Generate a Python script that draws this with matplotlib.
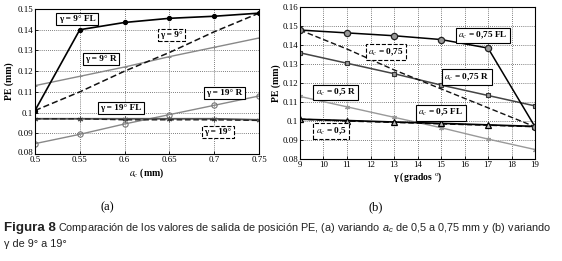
import matplotlib
matplotlib.use("Agg")
import matplotlib.pyplot as plt
import matplotlib.transforms as mtransforms

plt.rcParams['mathtext.fontset'] = 'custom'
plt.rcParams['mathtext.rm'] = 'Liberation Sans'
plt.rcParams['mathtext.it'] = 'Liberation Sans:italic'

# ---- data: panel (a) ----
ac = [0.5, 0.55, 0.6, 0.65, 0.7, 0.75]
g9_fl = [0.101, 0.140, 0.1435, 0.1455, 0.1465, 0.148]
g9 = [0.101, 0.110, 0.120, 0.129, 0.139, 0.148]
g9_r = [0.113, 0.1175, 0.122, 0.127, 0.1315, 0.136]
g19_r = [0.085, 0.0895, 0.0945, 0.099, 0.1035, 0.108]
g19_fl = [0.097, 0.097, 0.097, 0.097, 0.097, 0.0965]
g19 = [0.097, 0.097, 0.0965, 0.0965, 0.0965, 0.0962]
a_xticks = [0.5, 0.55, 0.6, 0.65, 0.7, 0.75]
a_xticklabels = ['0.5', '0.55', '0.6', '0.65', '0.7', '0.75']
a_yticks = [0.08, 0.09, 0.1, 0.11, 0.12, 0.13, 0.14, 0.15]
a_yticklabels = ['0.08', '0.09', '0.1', '0.11', '0.12', '0.13', '0.14', '0.15']

# ---- data: panel (b) ----
gam = [9, 11, 13, 15, 17, 19]
a75_fl = [0.148, 0.1465, 0.145, 0.143, 0.1385, 0.097]
a75 = [0.148, 0.138, 0.127, 0.117, 0.107, 0.097]
a75_r = [0.136, 0.1305, 0.125, 0.119, 0.1135, 0.108]
a5_r = [0.113, 0.1075, 0.102, 0.0965, 0.0905, 0.085]
a5_fl = [0.101, 0.1003, 0.0995, 0.0988, 0.098, 0.0972]
a5 = [0.101, 0.100, 0.0993, 0.0985, 0.0978, 0.097]
b_xticks = [9, 10, 11, 12, 13, 14, 15, 16, 17, 18, 19]
b_yticks = [0.08, 0.09, 0.1, 0.11, 0.12, 0.13, 0.14, 0.15, 0.16]
b_yticklabels = ['0.08', '0.09', '0.1', '0.11', '0.12', '0.13', '0.14', '0.15', '0.16']

SERIF = 'Liberation Serif'
W, H = 562, 261
fig = plt.figure(figsize=(W / 100, H / 100), dpi=100)

def px_axes(l, r, t, b):
    return fig.add_axes([l / W, 1 - b / H, (r - l) / W, (b - t) / H])

ax1 = px_axes(35, 259, 9, 154)
ax2 = px_axes(300, 535, 7.3, 159)

tick_fs = 6.4
for ax in (ax1, ax2):
    ax.grid(True, linestyle=(0, (1, 1.5)), color='#555555', linewidth=0.6)
    ax.tick_params(direction='in', length=2, width=0.6, labelsize=tick_fs, pad=1.5)
    for s in ax.spines.values():
        s.set_linewidth(0.8)

# panel (a)
ax1.plot(ac, g9_r, color='#888888', lw=1.0, marker='+', ms=3.5, mew=0.7)
ax1.plot(ac, g19_r, color='#888888', lw=1.0, marker='o', ms=3.8, mfc='none', mec='#777777', mew=0.8)
ax1.plot(ac, g19_fl, color='#555555', lw=1.3, marker=(6, 2, 0), ms=4, mew=0.8)
ax1.plot(ac, g19, color='#222222', lw=1.0, ls=(0, (4, 2)))
ax1.plot(ac, g9, color='#111111', lw=1.1, ls=(0, (4, 2)))
ax1.plot(ac, g9_fl, color='#000000', lw=1.2, marker='o', ms=2.8)
ax1.set_xlim(0.5, 0.75)
ax1.set_ylim(0.08, 0.15)
ax1.set_xticks(a_xticks)
ax1.set_xticklabels(a_xticklabels, fontfamily=SERIF)
ax1.set_yticks(a_yticks)
ax1.set_yticklabels(a_yticklabels, fontfamily=SERIF)
ax1.set_xlabel(r'$a_c$ (mm)', fontfamily=SERIF, fontsize=7, fontweight='bold',
               math_fontfamily='stix', labelpad=2)
ax1.set_ylabel('PE (mm)', fontfamily=SERIF, fontsize=7, fontweight='bold', labelpad=2)
# lift the lowest y tick label a little so it clears the "0.5" x label (as in the original)
lowlab = ax1.get_yticklabels()[0]
lowlab.set_transform(lowlab.get_transform() +
                     mtransforms.ScaledTranslation(0, 2.5 / 100, fig.dpi_scale_trans))

lab_fs = 6.7
def box(ax, x, y, s, dashed=False):
    ax.text(x, y, s, fontsize=lab_fs, fontfamily=SERIF, fontweight='bold',
            math_fontfamily='stix', ha='center', va='center', zorder=6,
            bbox=dict(boxstyle='square,pad=0.25', fc='white', ec='black', lw=0.8,
                      ls='--' if dashed else '-'))

box(ax1, 0.547, 0.1452, 'γ = 9° FL')
box(ax1, 0.652, 0.1374, 'γ = 9°', dashed=True)
box(ax1, 0.574, 0.1258, 'γ = 9° R')
box(ax1, 0.596, 0.1022, 'γ = 19° FL')
box(ax1, 0.711, 0.1094, 'γ = 19° R')
box(ax1, 0.704, 0.0906, 'γ = 19°', dashed=True)

# panel (b)
ax2.plot(gam, a5_r, color='#999999', lw=1.0, marker=(6, 2, 0), ms=3.5, mew=0.8)
ax2.plot(gam, a75_r, color='#444444', lw=1.1, marker='s', ms=3.5, mfc='#999999', mec='#333333', mew=0.8)
ax2.plot(gam, a5, color='#111111', lw=1.0, ls=(0, (4, 2)))
ax2.plot(gam, a75, color='#111111', lw=1.0, ls=(0, (4, 2)))
ax2.plot(gam, a5_fl, color='#000000', lw=1.2, marker='^', ms=5, mfc='#bbbbbb', mec='#000000', mew=0.9)
ax2.plot(gam, a75_fl, color='#000000', lw=1.1, marker='o', ms=4.5, mfc='#999999', mec='#222222', mew=0.9)
ax2.set_xlim(9, 19)
ax2.set_ylim(0.08, 0.16)
ax2.set_xticks(b_xticks)
ax2.set_xticklabels([str(v) for v in b_xticks], fontfamily=SERIF)
ax2.set_yticks(b_yticks)
ax2.set_yticklabels(b_yticklabels, fontfamily=SERIF)
ax2.set_xlabel('γ (grados $^{\\mathrm{o}}$)', fontfamily=SERIF, fontsize=7, fontweight='bold',
               math_fontfamily='stix', labelpad=1)
ax2.set_ylabel('PE (mm)', fontfamily=SERIF, fontsize=7, fontweight='bold', labelpad=0.5)

box(ax2, 16.8, 0.1451, r'$a_c$ = 0,75 FL')
box(ax2, 12.65, 0.1363, r'$a_c$ = 0,75', dashed=True)
box(ax2, 16.1, 0.1232, r'$a_c$ = 0,75 R')
box(ax2, 10.53, 0.1151, r'$a_c$ = 0,5 R')
box(ax2, 15.0, 0.1044, r'$a_c$ = 0,5 FL')
box(ax2, 10.32, 0.0947, r'$a_c$ = 0,5', dashed=True)

# captions
fig.text(107 / W, 1 - 207 / H, '(a)', fontfamily=SERIF, fontsize=9, ha='center', va='center')
fig.text(376 / W, 1 - 207 / H, '(b)', fontfamily=SERIF, fontsize=9, ha='center', va='center')

cap_color = '#222222'
t1 = fig.text(4 / W, 1 - 228 / H, 'Figura 8', fontfamily='Liberation Sans', fontsize=9.6,
              fontweight='bold', color=cap_color, ha='left', va='center')
fig.canvas.draw()
r = fig.canvas.get_renderer()
bb = t1.get_window_extent(r)
x0 = (bb.x1 + 2) / W
fig.text(x0, 1 - 228 / H,
         r'Comparación de los valores de salida de posición PE, (a) variando $a_c$ de 0,5 a 0,75 mm y (b) variando',
         fontfamily='Liberation Sans', fontsize=7.85, color=cap_color, ha='left', va='center',
         math_fontfamily='custom')
fig.text(4 / W, 1 - 244 / H, 'γ de 9° a 19°', fontfamily='Liberation Sans', fontsize=7.85,
         color=cap_color, ha='left', va='center')

fig.savefig('out.png', dpi=100)
